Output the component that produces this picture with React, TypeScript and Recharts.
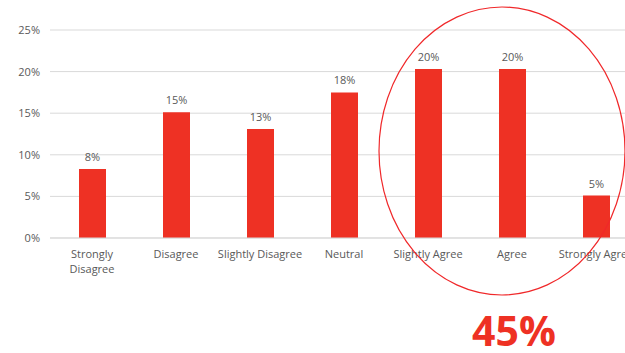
import React from 'react';
import { BarChart, Bar, XAxis, YAxis, CartesianGrid, LabelList } from 'recharts';

const categories = [
  'Strongly\nDisagree',
  'Disagree',
  'Slightly Disagree',
  'Neutral',
  'Slightly Agree',
  'Agree',
  'Strongly Agree',
];
const shares = [8.3, 15.1, 13.1, 17.5, 20.3, 20.3, 5.1];
const yTicks = [0, 5, 10, 15, 20, 25];
const highlightText = '45%';

const RED = '#ee3124';
const TEXT = '#595959';
const FONT = '"Open Sans", "Noto Sans", sans-serif';

const data = categories.map((name, i) => ({ name, value: shares[i] }));

const CategoryTick = (props: any) => {
  const { x, y, payload } = props;
  const lines = String(payload.value).split('\n');
  return (
    <text x={x} y={y} textAnchor="middle" fill={TEXT} fontSize={11} fontFamily={FONT}>
      {lines.map((line, i) => (
        <tspan key={i} x={x} dy={i === 0 ? 12 : 15}>
          {line}
        </tspan>
      ))}
    </text>
  );
};

const App: React.FC = () => {
  return (
    <div style={{ position: 'absolute', left: 0, top: 0, width: 625, height: 353, overflow: 'hidden', background: '#fff' }}>
      <BarChart
        width={660}
        height={300}
        data={data}
        margin={{ top: 30, right: 22, left: 8, bottom: 32 }}
        barCategoryGap={0}
      >
        <CartesianGrid vertical={false} stroke="#d9d9d9" />
        <XAxis
          dataKey="name"
          height={30}
          interval={0}
          axisLine={{ stroke: '#d9d9d9' }}
          tickLine={false}
          tick={<CategoryTick />}
        />
        <YAxis
          width={42}
          domain={[0, 25]}
          ticks={yTicks}
          axisLine={false}
          tickLine={false}
          tickMargin={4}
          tickFormatter={(v: number) => `${v}%`}
          tick={{ fill: TEXT, fontSize: 11, fontFamily: FONT }}
        />
        <Bar dataKey="value" fill={RED} barSize={27} isAnimationActive={false}>
          <LabelList
            dataKey="value"
            position="top"
            offset={8}
            formatter={(v: any) => `${Math.round(Number(v))}%`}
            style={{ fill: TEXT, fontSize: 11, fontFamily: FONT }}
          />
        </Bar>
      </BarChart>
      <svg width={625} height={353} style={{ position: 'absolute', left: 0, top: 0, pointerEvents: 'none' }}>
        <ellipse cx={502} cy={151} rx={123} ry={144} fill="none" stroke="#f0282a" strokeWidth={1.2} />
        <text
          x={514}
          y={346}
          textAnchor="middle"
          fill={RED}
          fontSize={41}
          fontWeight={700}
          fontFamily={FONT}
        >
          {highlightText}
        </text>
      </svg>
    </div>
  );
};

export default App;
